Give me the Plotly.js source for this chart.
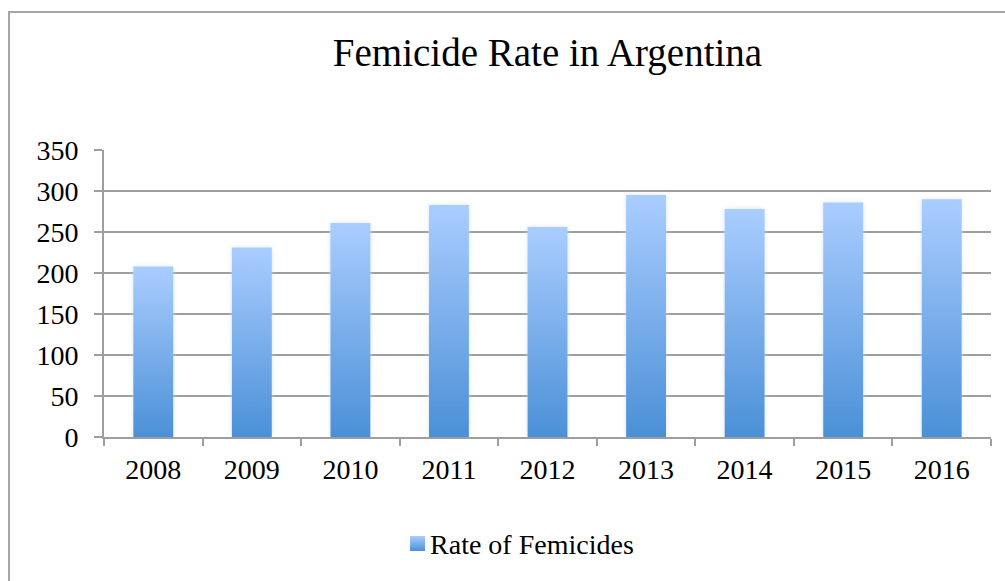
<!DOCTYPE html>
<html>
<head>
<meta charset="utf-8">
<script src="https://cdn.plot.ly/plotly-3.0.1.min.js"></script>
<style>
  html, body { margin: 0; padding: 0; background: #ffffff; }
  #chart { width: 1005px; height: 581px; }
</style>
</head>
<body>
<div id="chart"></div>
<script>
// Yearly femicide counts in Argentina
var years = ['2008', '2009', '2010', '2011', '2012', '2013', '2014', '2015', '2016'];
var femicides = [208, 231, 261, 283, 256, 295, 278, 286, 290];
var seriesName = 'Rate of Femicides';
var yTicks = [0, 50, 100, 150, 200, 250, 300, 350];

var FONT = '"Liberation Serif", "DejaVu Serif", serif';
var GRID = '#9e9e9e';

var trace = {
  type: 'bar',
  x: years,
  y: femicides,
  name: seriesName,
  showlegend: true,
  marker: { color: '#78aaea', line: { width: 0 } },
  hoverinfo: 'x+y'
};

var layout = {
  width: 1005,
  height: 581,
  margin: { l: 104, r: 14, t: 150, b: 144 },
  paper_bgcolor: '#ffffff',
  plot_bgcolor: '#ffffff',
  bargap: 0.595,
  font: { family: FONT, color: '#000000', size: 28 },
  title: {
    text: 'Femicide Rate in Argentina',
    font: { family: FONT, size: 39, color: '#000000' },
    xref: 'paper', x: 0.5, xanchor: 'center',
    yref: 'container', y: 0.886, yanchor: 'bottom'
  },
  xaxis: {
    type: 'category',
    showgrid: false,
    showline: true, linecolor: GRID, linewidth: 2,
    ticks: 'outside', tickson: 'boundaries', ticklen: 7, tickwidth: 2, tickcolor: GRID,
    ticklabelstandoff: 6,
    tickfont: { family: FONT, size: 28, color: '#000000' },
    fixedrange: true
  },
  yaxis: {
    range: [0, 350],
    tickvals: yTicks,
    ticktext: yTicks.map(String),
    showgrid: true, gridcolor: GRID, gridwidth: 2,
    zeroline: false,
    showline: true, linecolor: GRID, linewidth: 2,
    ticks: 'outside', ticklen: 8, tickwidth: 2, tickcolor: GRID,
    ticklabelstandoff: 10,
    tickfont: { family: FONT, size: 28, color: '#000000' },
    fixedrange: true
  },
  legend: {
    orientation: 'h',
    x: 0.3225, xanchor: 'left',
    y: -0.285, yanchor: 'top',
    font: { family: FONT, size: 28, color: '#000000' },
    bgcolor: 'rgba(0,0,0,0)',
    itemwidth: 30
  },
  shapes: [{
    type: 'rect', layer: 'below',
    xref: 'paper', yref: 'paper',
    x0: -0.1071, x1: 1.03, y0: -0.56, y1: 1.4808,
    line: { color: '#a6a6a6', width: 2 },
    fillcolor: 'rgba(0,0,0,0)'
  }]
};

function applyGradient(gd) {
  var svg = gd.querySelector('svg.main-svg');
  if (!svg) return;
  var ns = 'http://www.w3.org/2000/svg';
  var defs = svg.querySelector('defs');
  if (!defs) { defs = document.createElementNS(ns, 'defs'); svg.insertBefore(defs, svg.firstChild); }
  if (!defs.querySelector('#barFade')) {
    var grad = document.createElementNS(ns, 'linearGradient');
    grad.setAttribute('id', 'barFade');
    grad.setAttribute('x1', '0'); grad.setAttribute('y1', '0');
    grad.setAttribute('x2', '0'); grad.setAttribute('y2', '1');
    [['0', '#aacdff'], ['1', '#4b90d7']].forEach(function (s) {
      var stop = document.createElementNS(ns, 'stop');
      stop.setAttribute('offset', s[0]);
      stop.setAttribute('stop-color', s[1]);
      grad.appendChild(stop);
    });
    defs.appendChild(grad);

    var glow = document.createElementNS(ns, 'filter');
    glow.setAttribute('id', 'barGlow');
    glow.setAttribute('x', '-20%'); glow.setAttribute('y', '-5%');
    glow.setAttribute('width', '140%'); glow.setAttribute('height', '110%');
    glow.innerHTML =
      '<feGaussianBlur in="SourceAlpha" stdDeviation="2.5" result="b"/>' +
      '<feFlood flood-color="#c9dcf5" flood-opacity="0.7"/>' +
      '<feComposite in2="b" operator="in" result="s"/>' +
      '<feMerge><feMergeNode in="s"/><feMergeNode in="SourceGraphic"/></feMerge>';
    defs.appendChild(glow);
  }
  gd.querySelectorAll('.bars .point path').forEach(function (p) {
    p.style.fill = 'url(#barFade)';
    p.style.filter = 'url(#barGlow)';
  });
  // larger legend swatch sitting closer to its label
  gd.querySelectorAll('.legendpoints path').forEach(function (p) {
    p.setAttribute('d', 'M0,-7.5H15V7.5H0Z');
    p.style.fill = 'url(#barFade)';
  });
}

var gd = document.getElementById('chart');
Plotly.newPlot(gd, [trace], layout, { displayModeBar: false, staticPlot: true }).then(function () {
  applyGradient(gd);
});
</script>
</body>
</html>
